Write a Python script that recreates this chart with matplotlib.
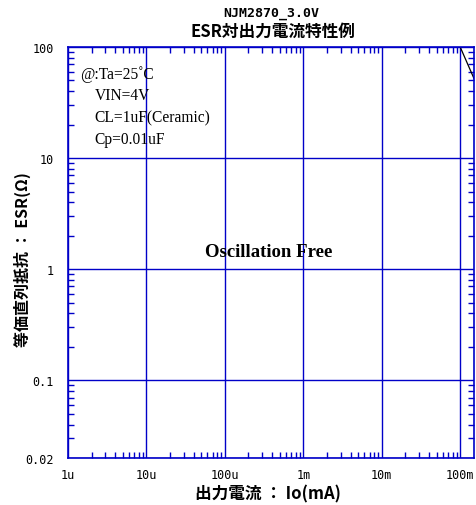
import matplotlib
matplotlib.use("Agg")
import matplotlib.pyplot as plt
from matplotlib.ticker import LogLocator, NullFormatter

plt.rcParams["font.family"] = ["Noto Sans CJK JP", "DejaVu Sans"]

BLUE = "#0000c8"

# boundary curve (top-right corner)
boundary_io = [0.1, 0.15]
boundary_esr = [100.0, 52.0]

x_ticks = [1e-6, 1e-5, 1e-4, 1e-3, 1e-2, 1e-1]
x_labels = ["1u", "10u", "100u", "1m", "10m", "100m"]
y_ticks = [0.02, 0.1, 1, 10, 100]
y_labels = ["0.02", "0.1", "1", "10", "100"]

conditions = ["@:Ta=25\u02daC", "VIN=4V", "CL=1uF(Ceramic)", "Cp=0.01uF"]

fig = plt.figure(figsize=(4.77, 5.06), dpi=100)
ax = fig.add_axes([68 / 477, 1 - 459 / 506, (474 - 68) / 477, (459 - 48) / 506])

ax.set_xscale("log")
ax.set_yscale("log")
ax.set_xlim(1e-6, 0.15)
ax.set_ylim(0.02, 100)

ax.plot(boundary_io, boundary_esr, color="black", lw=0.9)

ax.set_xticks(x_ticks)
ax.set_xticklabels(x_labels)
ax.set_yticks(y_ticks)
ax.set_yticklabels(y_labels)
ax.xaxis.set_minor_locator(LogLocator(base=10, subs=range(2, 10), numticks=20))
ax.yaxis.set_minor_locator(LogLocator(base=10, subs=range(2, 10), numticks=20))
ax.xaxis.set_minor_formatter(NullFormatter())
ax.yaxis.set_minor_formatter(NullFormatter())

ax.grid(True, which="major", color=BLUE, lw=1.0)
ax.tick_params(which="both", direction="in", top=True, right=True, color=BLUE,
               labelsize=8.5, labelcolor="black")
ax.tick_params(axis="x", which="major", length=0, pad=7)
ax.tick_params(axis="y", which="major", length=0, pad=10)
ax.tick_params(which="minor", length=4, width=1.0)
for sp in ax.spines.values():
    sp.set_color(BLUE)
    sp.set_linewidth(1.2)

for lab in ax.get_xticklabels() + ax.get_yticklabels():
    lab.set_family(["DejaVu Sans Mono"])

for i, line in enumerate(conditions):
    ax.text(0.03 if i == 0 else 0.065, 0.935 - i * 0.053, line,
            transform=ax.transAxes, family=["Liberation Serif"], fontsize=11.2,
            va="center", ha="left")

ax.text(0.495, 0.503, "Oscillation Free", transform=ax.transAxes,
        family=["Liberation Serif"], fontsize=13.5, fontweight="bold",
        ha="center", va="center")

fig.text(271 / 477, 1 - 13 / 506, "NJM2870_3.0V", ha="center", va="center",
         fontsize=9.5, fontweight="bold", family=["DejaVu Sans Mono"])
fig.text(273 / 477, 1 - 32 / 506, "ESR対出力電流特性例", ha="center", va="center",
         fontsize=12, fontweight="bold")

fig.text(268 / 477, 1 - 494 / 506, "出力電流 ： Io(mA)", ha="center", va="center",
         fontsize=12, fontweight="bold")
fig.text(22 / 477, 1 - 260 / 506, "等価直列抵抗 ： ESR(Ω)", ha="center", va="center",
         rotation=90, fontsize=11.5, fontweight="bold")

fig.savefig("out.png", dpi=100)
